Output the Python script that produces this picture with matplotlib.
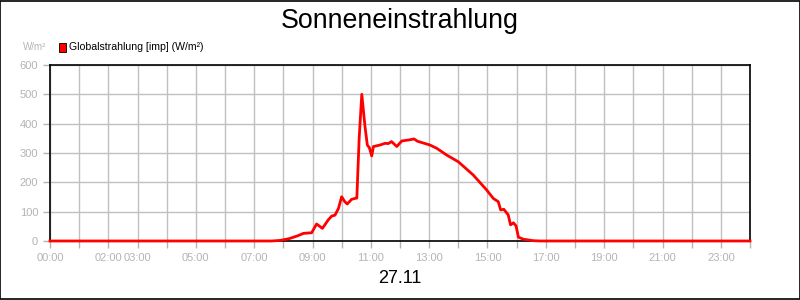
import matplotlib
matplotlib.use("Agg")
import matplotlib.pyplot as plt
from matplotlib.patches import Rectangle

plt.rcParams['font.family'] = ['Liberation Sans', 'DejaVu Sans']

hours = [0.0, 7.6, 7.9, 8.2, 8.5, 8.69, 8.97, 9.14, 9.34, 9.54, 9.66, 9.77, 9.89, 10.0,
         10.1, 10.19, 10.34, 10.49, 10.52, 10.6, 10.69, 10.8, 10.88, 10.95, 11.03, 11.09,
         11.31, 11.49, 11.6, 11.71, 11.89, 12.06, 12.34, 12.48, 12.6, 13.03, 13.26, 13.6,
         14.0, 14.51, 14.97, 15.2, 15.37, 15.45, 15.56, 15.71, 15.79, 15.89, 15.98, 16.06,
         16.23, 16.57, 16.8, 24.0]
values = [0, 0, 2, 8, 18, 26, 28, 58, 43, 72, 85, 88, 111, 151,
          135, 126, 142, 146, 146, 350, 500, 390, 327, 318, 290, 322,
          327, 333, 332, 339, 322, 341, 345, 348, 340, 327, 316, 293,
          270, 225, 174, 145, 134, 106, 108, 89, 55, 62, 51, 13,
          6, 1, 0, 0]

xtick_pos = [0, 2, 3, 5, 7, 9, 11, 13, 15, 17, 19, 21, 23]
xtick_lab = ["00:00", "02:00", "03:00", "05:00", "07:00", "09:00", "11:00",
             "13:00", "15:00", "17:00", "19:00", "21:00", "23:00"]
yticks = [0, 100, 200, 300, 400, 500, 600]

fig = plt.figure(figsize=(8, 3), dpi=100)
fig.patch.set_facecolor('white')
ax = fig.add_axes([0.0625, 0.1967, 0.875, 0.5867])

ax.set_xlim(0, 24)
ax.set_ylim(0, 600)
ax.set_xticks(range(0, 25), minor=True)
ax.set_xticks(xtick_pos)
ax.set_xticklabels(xtick_lab)
ax.set_yticks(yticks)
ax.grid(True, which='both', axis='x', color='#c0c0c0', linewidth=1)
ax.grid(True, which='major', axis='y', color='#c0c0c0', linewidth=1)
ax.set_axisbelow(True)
ax.tick_params(axis='both', which='both', colors='#b4b4b4', labelcolor='#b4b4b4',
               labelsize=8, length=5, width=1, direction='out')
ax.tick_params(axis='x', which='both', pad=4)
for s in ax.spines.values():
    s.set_color('black')
    s.set_linewidth(1.2)

ax.plot(hours, values, color='#ff0000', linewidth=2, clip_on=False, zorder=3)

fig.text(0.5, 0.93, "Sonneneinstrahlung", ha='center', va='center', fontsize=19.3, color='black')
fig.text(0.5, 0.073, "27.11", ha='center', va='center', fontsize=13, color='black')
fig.text(0.058, 0.845, "W/m²", ha='right', va='center', fontsize=7, color='#b4b4b4')
fig.patches.append(Rectangle((0.0735, 0.828), 0.0085, 0.028, transform=fig.transFigure,
                             facecolor='#ff0000', edgecolor='black', linewidth=0.6))
fig.text(0.0865, 0.845, "Globalstrahlung [imp] (W/m²)", ha='left', va='center', fontsize=7.6, color='black')

fig.patches.append(Rectangle((0.0006, 0.0017), 0.9988, 0.9966, transform=fig.transFigure,
                             facecolor='none', edgecolor='black', linewidth=1.2))

fig.savefig("out.png", dpi=100)
